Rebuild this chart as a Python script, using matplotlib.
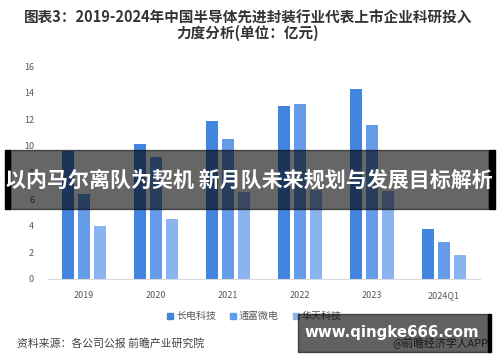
import matplotlib.pyplot as plt
import numpy as np
from matplotlib.patches import Rectangle

plt.rcParams["font.family"] = ["Noto Sans CJK SC", "DejaVu Sans"]

# ---------------------- data ----------------------
years = ["2019", "2020", "2021", "2022", "2023", "2024Q1"]
changdian = [9.6, 10.15, 11.85, 13.0, 14.3, 3.75]
tongfu = [6.4, 9.2, 10.55, 13.15, 11.55, 2.8]
huatian = [3.95, 4.5, 6.5, 6.7, 6.6, 1.8]
series_names = ["长电科技", "通富微电", "华天科技"]
colors = ["#4285e0", "#659be8", "#8ab4f0"]

title = "图表3：2019-2024年中国半导体先进封装行业代表上市企业科研投入\n力度分析(单位：亿元)"
source = "资料来源：各公司公报 前瞻产业研究院"
brand = "@前瞻经济学人APP"
banner = "以内马尔离队为契机 新月队未来规划与发展目标解析"
site = "www.qingke666.com"

W, H = 500, 362


def fx(px):
    return px / W


def fy(py):
    return 1 - py / H


fig = plt.figure(figsize=(5, 3.62), dpi=100)
ax = fig.add_axes([fx(48), fy(279), fx(480) - fx(48), fy(66) - fy(279)])

x = np.arange(len(years))
width = 0.174
step = 0.222
for i, (vals, c) in enumerate(zip([changdian, tongfu, huatian], colors)):
    ax.bar(x + (i - 1) * step, vals, width, color=c, label=series_names[i])

ax.set_xlim(-0.5, len(years) - 0.5)
ax.set_ylim(0, 16)
ax.set_yticks(range(0, 17, 2))
ax.set_xticks(x)
ax.set_xticklabels(years)
ax.tick_params(axis="both", length=0, labelsize=6.5, colors="#595959")
ax.tick_params(axis="y", pad=10)
ax.tick_params(axis="x", pad=9)
for s in ["top", "right", "left"]:
    ax.spines[s].set_visible(False)
ax.spines["bottom"].set_color("#d9d9d9")
ax.spines["bottom"].set_linewidth(0.8)

fig.text(0.496, fy(25), title, ha="center", va="center", fontsize=10.5,
         fontweight="bold", color="#333333", linespacing=0.95)

# legend drawn by hand to match placement
leg_x = [170, 233, 296]
for lx, name, c in zip(leg_x, series_names, colors):
    fig.patches.append(Rectangle((fx(lx - 3), fy(319)), fx(6), 6 / H,
                                 transform=fig.transFigure, color=c))
    fig.text(fx(lx + 6), fy(316), name, ha="left", va="center",
             fontsize=7.2, color="#595959")

fig.text(fx(17), fy(343), source, ha="left", va="center", fontsize=7.8,
         color="#404040")
fig.text(fx(488), fy(343), brand, ha="right", va="center", fontsize=7.8,
         color="#404040")

# overlay banner
fig.patches.append(Rectangle((fx(10), fy(209)), fx(479), 59 / H,
                             transform=fig.transFigure, color="black",
                             alpha=0.6, zorder=5))
fig.patches.append(Rectangle((fx(5), fy(209)), fx(5), 59 / H,
                             transform=fig.transFigure, color="black", zorder=5))
fig.patches.append(Rectangle((fx(489), fy(209)), fx(6), 59 / H,
                             transform=fig.transFigure, color="black", zorder=5))
fig.text(0.497, fy(180), banner, ha="center", va="center", fontsize=15.1,
         fontweight="bold", color="white", zorder=6)

# site watermark box
fig.patches.append(Rectangle((fx(298), fy(352)), fx(190), 38 / H,
                             transform=fig.transFigure, color="black",
                             alpha=0.62, zorder=5))
fig.patches.append(Rectangle((fx(488), fy(352)), fx(3), 38 / H,
                             transform=fig.transFigure, color="black", zorder=5))
fig.text(fx(392), fy(333), site, ha="center", va="center", fontsize=10.8,
         fontweight="bold", color="white", family="DejaVu Sans", zorder=6)

fig.savefig("out.png", dpi=100)
